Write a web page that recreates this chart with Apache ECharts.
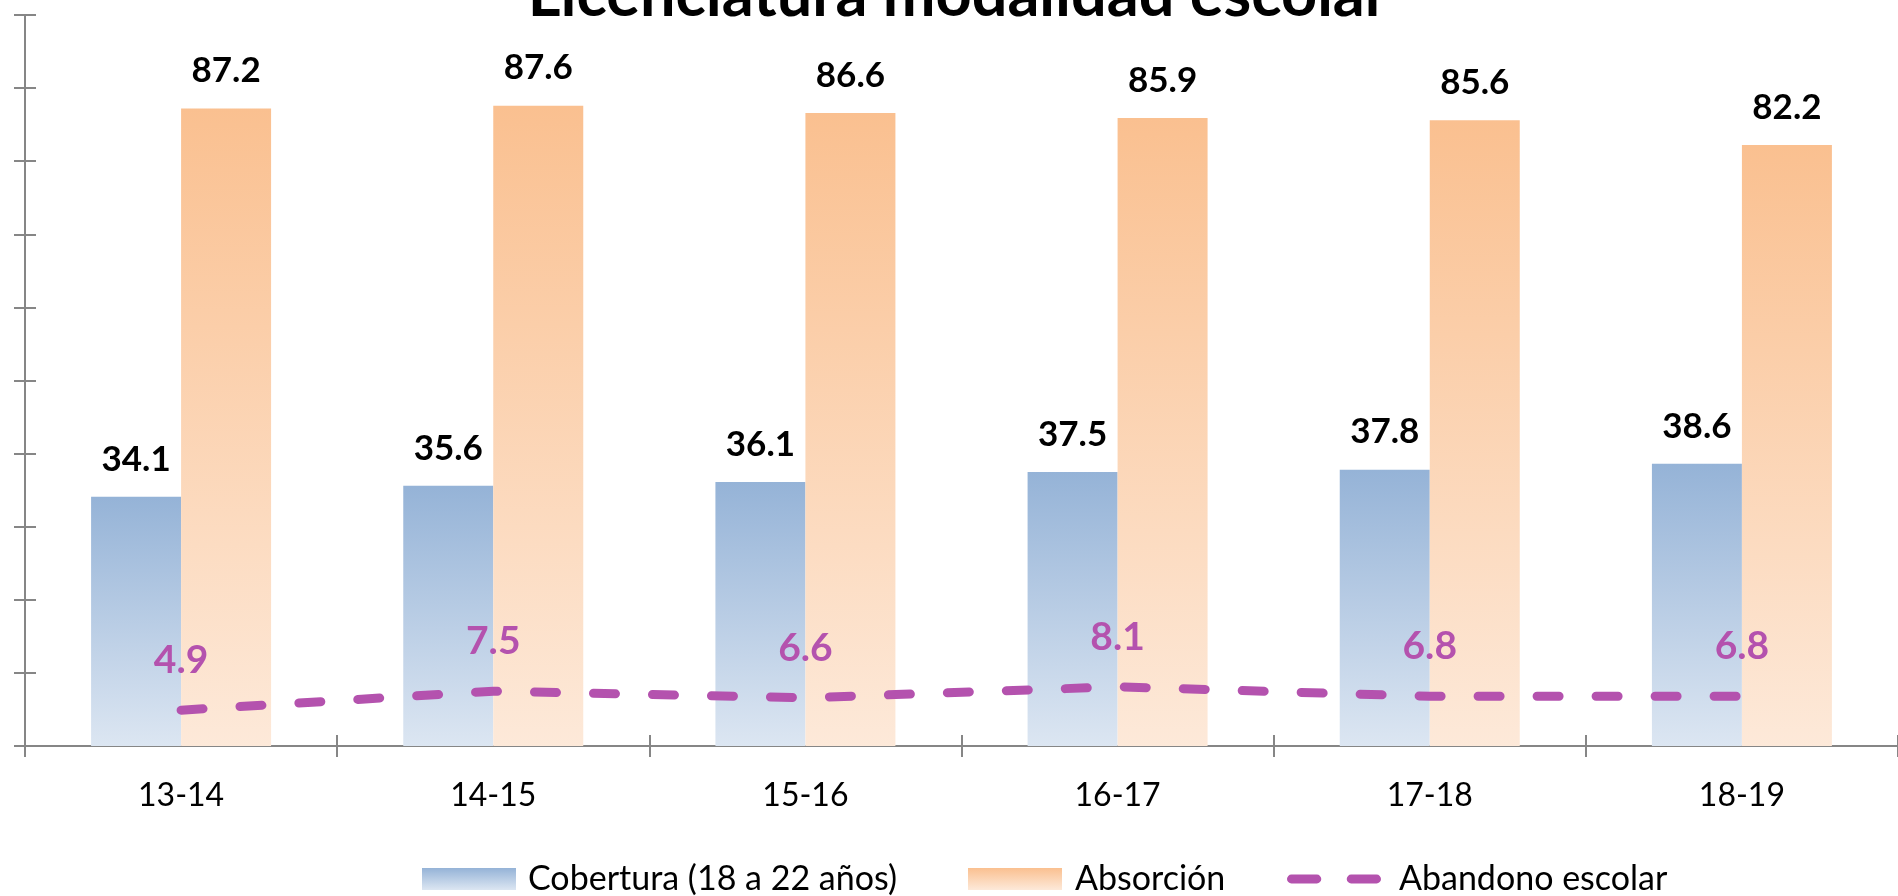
<!DOCTYPE html>
<html>
<head>
<meta charset="utf-8">
<script src="https://cdn.jsdelivr.net/npm/echarts@6/dist/echarts.min.js"></script>
<style>
html,body{margin:0;padding:0;background:#fff;}
#chart{width:1898px;height:896px;}
</style>
</head>
<body>
<div id="chart"></div>
<script>
const titleText = 'Licenciatura modalidad escolar';
const categories = ['13-14', '14-15', '15-16', '16-17', '17-18', '18-19'];
const cobertura = [34.1, 35.6, 36.1, 37.5, 37.8, 38.6];
const absorcion = [87.2, 87.6, 86.6, 85.9, 85.6, 82.2];
const abandono = [4.9, 7.5, 6.6, 8.1, 6.8, 6.8];
const seriesNames = ['Cobertura (18 a 22 años)', 'Absorción', 'Abandono escolar'];

const FONT = 'Lato, "Open Sans", sans-serif';
const AXIS = '#868686';
const PURPLE = '#B452AE';

const blueGrad = new echarts.graphic.LinearGradient(0, 0, 0, 1, [
  {offset: 0, color: '#95B3D7'}, {offset: 1, color: '#DCE6F2'}
]);
const orangeGrad = new echarts.graphic.LinearGradient(0, 0, 0, 1, [
  {offset: 0, color: '#FAC090'}, {offset: 1, color: '#FDE9D9'}
]);

const chart = echarts.init(document.getElementById('chart'), null, {renderer: 'canvas'});

const yBase = {
  type: 'value', min: 0, max: 100, interval: 10, position: 'left',
  splitLine: {show: false}, axisLabel: {show: false}
};
const xBase = {
  type: 'category', data: categories, position: 'bottom', boundaryGap: true
};

function legendText(padLeft) {
  return {fontFamily: FONT, fontSize: 34, color: '#000', padding: [0, 0, 0, padLeft]};
}
const legendCommon = {
  top: 862, itemWidth: 94, itemHeight: 22, padding: 0, selectedMode: false
};

chart.setOption({
  animation: false,
  backgroundColor: '#fff',
  graphic: [{
    type: 'text', x: 958, y: -36,
    style: {text: titleText, fontFamily: FONT, fontWeight: 'bold', fontSize: 63, fill: '#000', align: 'center', verticalAlign: 'top'}
  }],
  grid: {left: 25, right: -2, top: 15, bottom: 150, containLabel: false},
  xAxis: [
    Object.assign({}, xBase, {
      axisLine: {show: true, onZero: false, lineStyle: {color: AXIS, width: 2}},
      axisTick: {show: true, inside: false, length: 11, lineStyle: {color: AXIS, width: 2}},
      axisLabel: {show: true, margin: 34, fontFamily: FONT, fontSize: 32, color: '#000'}
    }),
    Object.assign({}, xBase, {
      axisLine: {show: false, onZero: false},
      axisTick: {show: true, inside: true, length: 11, lineStyle: {color: AXIS, width: 2}},
      axisLabel: {show: false}
    })
  ],
  yAxis: [
    Object.assign({}, yBase, {
      axisLine: {show: true, lineStyle: {color: AXIS, width: 2}},
      axisTick: {show: true, inside: false, length: 11, lineStyle: {color: AXIS, width: 2}}
    }),
    Object.assign({}, yBase, {
      axisLine: {show: false},
      axisTick: {show: true, inside: true, length: 11, lineStyle: {color: AXIS, width: 2}}
    })
  ],
  legend: [
    Object.assign({}, legendCommon, {left: 422, textStyle: legendText(7),
      data: [{name: seriesNames[0], icon: 'rect'}]}),
    Object.assign({}, legendCommon, {left: 968, textStyle: legendText(8),
      data: [{name: seriesNames[1], icon: 'rect'}]}),
    Object.assign({}, legendCommon, {left: 1287, textStyle: legendText(13),
      data: [{name: seriesNames[2],
        icon: 'path://M4.5,0 H30.5 A4.5,4.5 0 0 1 30.5,9 H4.5 A4.5,4.5 0 0 1 4.5,0 Z M65.5,0 H91.5 A4.5,4.5 0 0 1 91.5,9 H65.5 A4.5,4.5 0 0 1 65.5,0 Z',
        itemStyle: {color: PURPLE, borderWidth: 0}}]})
  ],
  series: [
    {
      name: seriesNames[0], type: 'bar', data: cobertura, xAxisIndex: 0, yAxisIndex: 0,
      barWidth: 90, barGap: '0%',
      itemStyle: {color: blueGrad},
      label: {show: true, position: 'top', distance: 20, fontFamily: FONT, fontWeight: 'bold', fontSize: 35, color: '#000'}
    },
    {
      name: seriesNames[1], type: 'bar', data: absorcion, xAxisIndex: 0, yAxisIndex: 0,
      barWidth: 90, barGap: '0%',
      itemStyle: {color: orangeGrad},
      label: {show: true, position: 'top', distance: 20, fontFamily: FONT, fontWeight: 'bold', fontSize: 35, color: '#000'}
    },
    {
      name: seriesNames[2], type: 'line', data: abandono, xAxisIndex: 0, yAxisIndex: 0,
      symbol: 'circle', symbolSize: 0, showSymbol: true,
      itemStyle: {color: PURPLE},
      lineStyle: {color: PURPLE, width: 9, type: [22, 37], cap: 'round'},
      label: {show: true, position: 'top', distance: 30, fontFamily: FONT, fontWeight: 'bold', fontSize: 39, color: PURPLE},
      z: 5
    }
  ]
});
</script>
</body>
</html>
